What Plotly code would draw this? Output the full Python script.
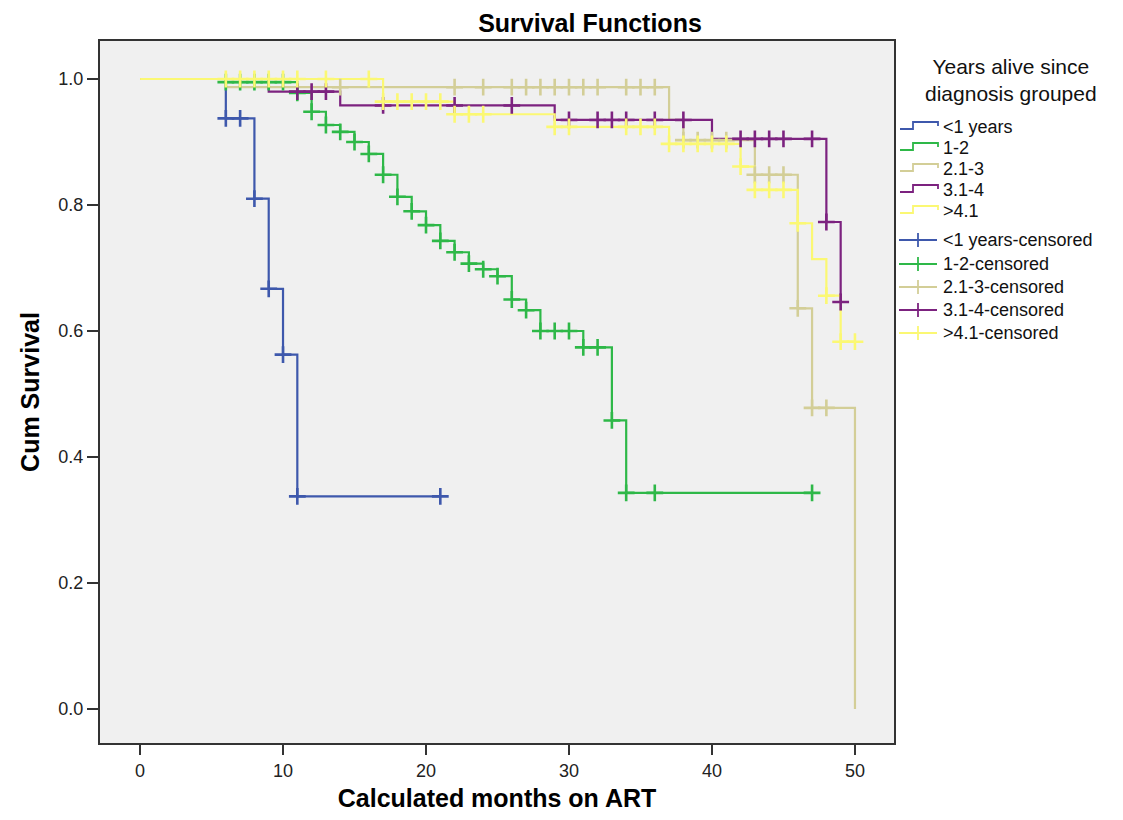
import plotly.graph_objects as go

# ---------------- data ----------------
group_names = ["<1 years", "1-2", "2.1-3", "3.1-4", ">4.1"]
group_colors = ["#3E58AC", "#2EB848", "#D3CE97", "#7C227F", "#FBF873"]

# step functions: event times and survival after the step
lt1_t = [0, 6, 8, 9, 10, 11, 21]
lt1_s = [1.0, 0.9375, 0.81, 0.667, 0.5625, 0.3375, 0.3375]
lt1_ct = [6, 7, 8, 9, 10, 11, 21]
lt1_cs = [0.9375, 0.9375, 0.81, 0.667, 0.5625, 0.3375, 0.3375]

g12_t = [0, 6, 11, 12, 13, 14, 15, 16, 17, 18, 19, 20, 21, 22, 23, 24, 25, 26, 27, 28, 31, 33, 34, 47]
g12_s = [1.0, 0.995, 0.978, 0.948, 0.927, 0.916, 0.90, 0.881, 0.848, 0.813, 0.79, 0.768, 0.743,
         0.725, 0.707, 0.698, 0.687, 0.65, 0.633, 0.60, 0.574, 0.458, 0.343, 0.343]
g12_ct = [6, 7, 8, 9, 10, 11, 12, 13, 14, 15, 16, 17, 18, 19, 20, 21, 22, 23, 24, 25, 26, 27,
          28, 29, 30, 31, 32, 33, 34, 36, 47]
g12_cs = [0.995, 0.995, 0.995, 0.995, 0.995, 0.978, 0.948, 0.927, 0.916, 0.90, 0.881, 0.848,
          0.813, 0.79, 0.768, 0.743, 0.725, 0.707, 0.698, 0.687, 0.65, 0.633,
          0.60, 0.60, 0.60, 0.574, 0.574, 0.458, 0.343, 0.343, 0.343]

g23_t = [0, 6, 37, 38, 43, 46, 47, 50]
g23_s = [1.0, 0.987, 0.935, 0.903, 0.848, 0.636, 0.478, 0.0]
g23_ct = [14, 22, 24, 26, 27, 28, 29, 30, 31, 32, 34, 35, 36, 38, 39, 40, 41, 43, 44, 45, 46, 47, 48]
g23_cs = [0.987] * 13 + [0.903] * 4 + [0.848] * 3 + [0.636, 0.478, 0.478]

g34_t = [0, 9, 14, 29, 40, 48, 49]
g34_s = [1.0, 0.98, 0.958, 0.935, 0.905, 0.773, 0.646]
g34_ct = [11, 12, 13, 17, 22, 26, 30, 32, 33, 34, 36, 38, 42, 43, 44, 45, 47, 48, 49]
g34_cs = [0.98] * 3 + [0.958] * 3 + [0.935] * 6 + [0.905] * 5 + [0.773, 0.646]

g41_t = [0, 17, 22, 29, 37, 42, 43, 46, 47, 48, 49, 50]
g41_s = [1.0, 0.964, 0.944, 0.924, 0.897, 0.861, 0.824, 0.771, 0.714, 0.656, 0.583, 0.583]
g41_ct = [6, 7, 8, 9, 10, 11, 13, 16, 17, 18, 19, 20, 21, 22, 23, 24, 29, 30, 34, 35, 36,
          37, 38, 39, 40, 41, 42, 43, 44, 45, 46, 48, 49, 50]
g41_cs = [1.0] * 8 + [0.964] * 5 + [0.944] * 3 + [0.924] * 5 + [0.897] * 5 + [0.861] + \
         [0.824] * 3 + [0.771, 0.656, 0.583, 0.583]

steps = [(lt1_t, lt1_s), (g12_t, g12_s), (g23_t, g23_s), (g34_t, g34_s), (g41_t, g41_s)]
cens = [(lt1_ct, lt1_cs), (g12_ct, g12_cs), (g23_ct, g23_cs), (g34_ct, g34_cs), (g41_ct, g41_cs)]

x_ticks = [0, 10, 20, 30, 40, 50]
y_ticks = [0.0, 0.2, 0.4, 0.6, 0.8, 1.0]
y_ticklabels = ["0.0", "0.2", "0.4", "0.6", "0.8", "1.0"]

# ---------------- figure ----------------
OFF = 8  # default page body margin
W, H = 1123 - 2 * OFF, 820 - 2 * OFF
# plot area in page pixels
L_pg, R_pg, T_pg, B_pg = 100, 894, 41, 743
L, R, T, B = L_pg - OFF, R_pg - OFF, T_pg - OFF, B_pg - OFF

fig = go.Figure()
for (t, s), name, col in zip(steps, group_names, group_colors):
    fig.add_trace(go.Scatter(x=t, y=s, mode="lines", line=dict(shape="hv", color=col, width=2.2),
                             name=name, showlegend=False, hoverinfo="skip"))
for (t, s), name, col in zip(cens, group_names, group_colors):
    fig.add_trace(go.Scatter(x=t, y=s, mode="markers", name=name + "-censored", showlegend=False,
                             marker=dict(symbol="cross-thin", size=12, color=col,
                                         line=dict(color=col, width=2.6))))


def px(xpage):
    return (xpage - OFF - L) / (R - L)


def py(ypage):
    return (B - (ypage - OFF)) / (B - T)


shapes = []
annotations = []
legend_font = dict(family="Liberation Sans, Arial, sans-serif", size=18, color="#111")
step_y = [127, 148, 169, 190, 211]
cens_y = [240, 264, 287, 310, 333]
for name, col, yy in zip(group_names, group_colors, step_y):
    path = "M {:.5f},{:.5f} L {:.5f},{:.5f} L {:.5f},{:.5f} L {:.5f},{:.5f} L {:.5f},{:.5f}".format(
        px(900), py(yy + 2), px(913), py(yy + 2), px(913), py(yy - 5), px(938), py(yy - 5), px(938), py(yy - 1))
    shapes.append(dict(type="path", xref="paper", yref="paper", path=path,
                       line=dict(color=col, width=1.8)))
    annotations.append(dict(text=name, xref="paper", yref="paper", x=px(941), y=py(yy),
                            xanchor="left", yanchor="middle", showarrow=False, font=legend_font))
for name, col, yy in zip(group_names, group_colors, cens_y):
    shapes.append(dict(type="line", xref="paper", yref="paper", x0=px(899), x1=px(937),
                       y0=py(yy), y1=py(yy), line=dict(color=col, width=1.8)))
    shapes.append(dict(type="line", xref="paper", yref="paper", x0=px(918), x1=px(918),
                       y0=py(yy - 7), y1=py(yy + 7), line=dict(color=col, width=1.8)))
    annotations.append(dict(text=name + "-censored", xref="paper", yref="paper", x=px(941), y=py(yy),
                            xanchor="left", yanchor="middle", showarrow=False, font=legend_font))

annotations.append(dict(text="Years alive since<br>diagnosis grouped", xref="paper", yref="paper",
                        x=px(1011), y=py(80), xanchor="center", yanchor="middle", showarrow=False,
                        align="center", font=dict(family="Liberation Sans, Arial, sans-serif",
                                                  size=21, color="#111")))

tick_font = dict(family="Liberation Sans Narrow, Arial Narrow, Liberation Sans, sans-serif",
                 size=18, color="#222")
title_font = dict(family="Liberation Sans, Arial, sans-serif", size=25, color="#000")

x0 = -2.8
x1 = 52.73
y0 = -0.054
y1 = 1.0603

fig.update_layout(
    width=W, height=H,
    margin=dict(l=L, r=W - R, t=T, b=H - B, autoexpand=False),
    paper_bgcolor="white",
    plot_bgcolor="#F0F0F0",
    showlegend=False,
    title=dict(text="<b>Survival Functions</b>", x=(590 - OFF) / W, xref="container", xanchor="center",
               y=1 - (23 - OFF) / H, yref="container", yanchor="middle",
               font=dict(family="Liberation Sans, Arial, sans-serif", size=25, color="#000")),
    xaxis=dict(range=[x0, x1], tickvals=x_ticks, ticks="outside", ticklen=10, tickwidth=2,
               tickcolor="#333", showgrid=False, zeroline=False, showline=True, linecolor="#333",
               linewidth=2, mirror=True, tickfont=tick_font,
               title=dict(text="<b>Calculated months on ART</b>", font=title_font, standoff=18)),
    yaxis=dict(range=[y0, y1], tickvals=y_ticks, ticktext=y_ticklabels, ticks="outside", ticklen=11,
               tickwidth=2, tickcolor="#333", showgrid=False, zeroline=False, showline=True,
               linecolor="#333", linewidth=2, mirror=True, tickfont=tick_font,
               title=dict(text="<b>Cum Survival</b>", font=title_font, standoff=12)),
    shapes=shapes,
    annotations=annotations,
)

fig.write_html("out.html")
